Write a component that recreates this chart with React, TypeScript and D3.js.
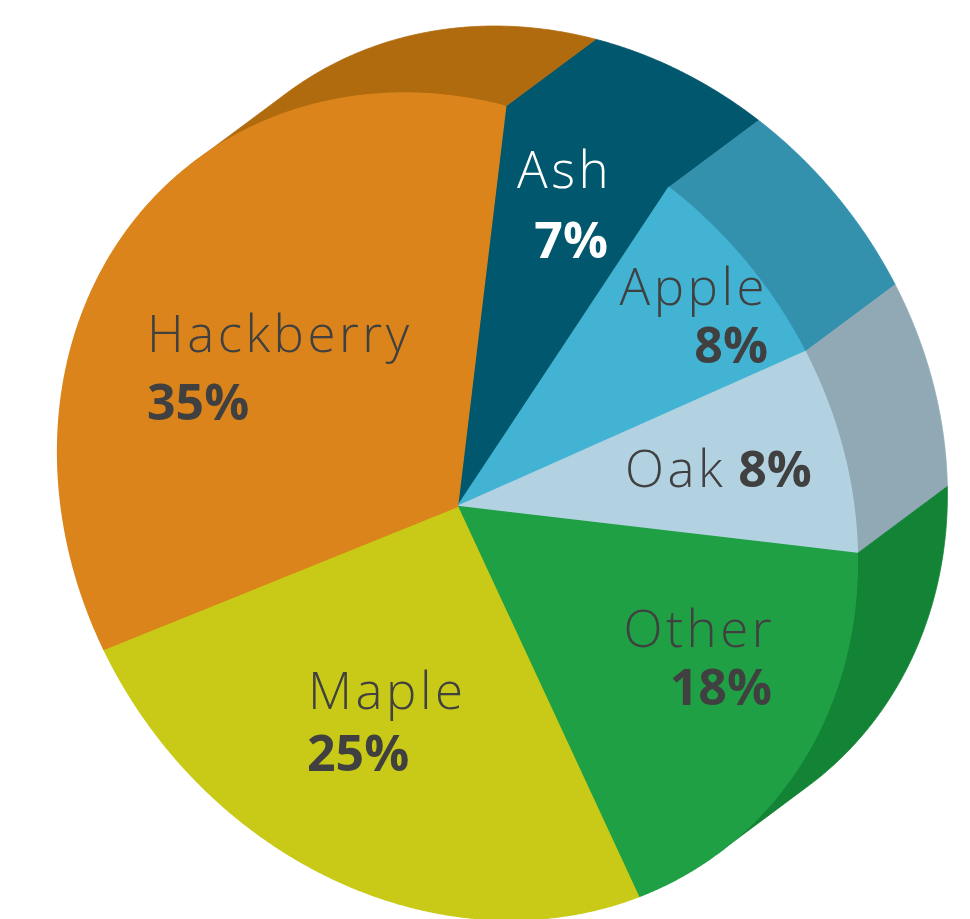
import React from 'react';
import * as d3 from 'd3';

// ---- data ----
const categories = ['Ash', 'Apple', 'Oak', 'Other', 'Maple', 'Hackberry'];
const values = [7, 8, 8, 18, 25, 35];
const faceColors = ['#01576E', '#42B3D3', '#B2D2E2', '#1FA044', '#C8CA17', '#DB841B'];
const sideColors = ['#01576E', '#3491AE', '#91A9B5', '#138335', '#A3A512', '#B06B0E'];
const labelColors = ['#FFFFFF', '#404040', '#404040', '#404040', '#404040', '#404040'];

// ---- layout ----
const W = 970;
const H = 919;
const CX = 457.5;
const CY = 506.5;
const M = [
  [399, 27],
  [27, 412.6],
];
const DEPTH = [90, -67];
const START = (10.8 * Math.PI) / 180;

type LabelPos = { name: [number, number]; pct?: [number, number]; anchor: 'start' | 'end' | 'middle'; inline?: boolean };
const labelLayout: LabelPos[] = [
  { name: [612, 188], pct: [608, 258], anchor: 'end' },
  { name: [768, 305], pct: [768, 363], anchor: 'end' },
  { name: [625, 487], anchor: 'start', inline: true },
  { name: [775, 647], pct: [772, 705], anchor: 'end' },
  { name: [308, 709], pct: [307, 771], anchor: 'start' },
  { name: [147, 352], pct: [147, 420], anchor: 'start' },
];

function project(a: number, r = 1): [number, number] {
  const ux = Math.sin(a) * r;
  const uy = -Math.cos(a) * r;
  return [CX + M[0][0] * ux + M[0][1] * uy, CY + M[1][0] * ux + M[1][1] * uy];
}

// inverse of M applied to DEPTH -> front-facing test
const det = M[0][0] * M[1][1] - M[0][1] * M[1][0];
const E = [
  (M[1][1] * DEPTH[0] - M[0][1] * DEPTH[1]) / det,
  (-M[1][0] * DEPTH[0] + M[0][0] * DEPTH[1]) / det,
];
const frontFacing = (a: number) => Math.sin(a) * E[0] - Math.cos(a) * E[1] > 0;

const STEP = (0.25 * Math.PI) / 180;

export default function App() {
  const pie = d3
    .pie<number>()
    .value((d) => d)
    .sort(null)
    .startAngle(START)
    .endAngle(START + 2 * Math.PI);
  const arcs = pie(values);
  const line = d3.line();

  const faces = arcs.map((a, i) => {
    const n = Math.max(2, Math.ceil((a.endAngle - a.startAngle) / STEP));
    const pts: [number, number][] = [[CX, CY]];
    d3.range(n + 1).forEach((k) => {
      pts.push(project(a.startAngle + ((a.endAngle - a.startAngle) * k) / n));
    });
    return { d: line(pts) + 'Z', color: faceColors[i] };
  });

  const walls = arcs
    .map((a, i) => {
      const n = Math.max(2, Math.ceil((a.endAngle - a.startAngle) / STEP));
      const angles = d3.range(n + 1).map((k) => a.startAngle + ((a.endAngle - a.startAngle) * k) / n);
      const vis = angles.filter(frontFacing);
      if (vis.length < 2) return null;
      const near = vis.map((t) => project(t));
      const far = vis
        .slice()
        .reverse()
        .map((t) => {
          const p = project(t);
          return [p[0] + DEPTH[0], p[1] + DEPTH[1]] as [number, number];
        });
      return { d: line([...near, ...far]) + 'Z', color: sideColors[i] };
    })
    .filter(Boolean) as { d: string; color: string }[];

  const nameStyle: React.CSSProperties = {
    fontFamily: '"Open Sans", sans-serif',
    fontWeight: 300,
    fontSize: 51,
    letterSpacing: 3.5,
  };
  const pctStyle: React.CSSProperties = {
    fontFamily: '"Open Sans", sans-serif',
    fontWeight: 700,
    fontSize: 50,
  };

  return (
    <svg
      width={W}
      height={H}
      viewBox={`0 0 ${W} ${H}`}
      style={{ position: 'absolute', left: 0, top: 0, background: '#fff' }}
    >
      <g>
        {walls.map((w, i) => (
          <path key={'w' + i} d={w.d} fill={w.color} stroke={w.color} strokeWidth={0.8} strokeLinejoin="round" />
        ))}
      </g>
      <g>
        {faces.map((f, i) => (
          <path key={'f' + i} d={f.d} fill={f.color} stroke={f.color} strokeWidth={1.4} strokeLinejoin="round" />
        ))}
      </g>
      <g>
        {categories.map((c, i) => {
          const L = labelLayout[i];
          const pct = `${values[i]}%`;
          if (L.inline) {
            return (
              <text key={c} x={L.name[0]} y={L.name[1]} fill={labelColors[i]} textAnchor={L.anchor}>
                <tspan style={nameStyle}>{c}</tspan>
                <tspan dx={12} style={pctStyle}>
                  {pct}
                </tspan>
              </text>
            );
          }
          return (
            <g key={c} fill={labelColors[i]}>
              <text x={L.name[0]} y={L.name[1]} textAnchor={L.anchor} style={nameStyle}>
                {c}
              </text>
              <text x={L.pct![0]} y={L.pct![1]} textAnchor={L.anchor} style={pctStyle}>
                {pct}
              </text>
            </g>
          );
        })}
      </g>
    </svg>
  );
}
